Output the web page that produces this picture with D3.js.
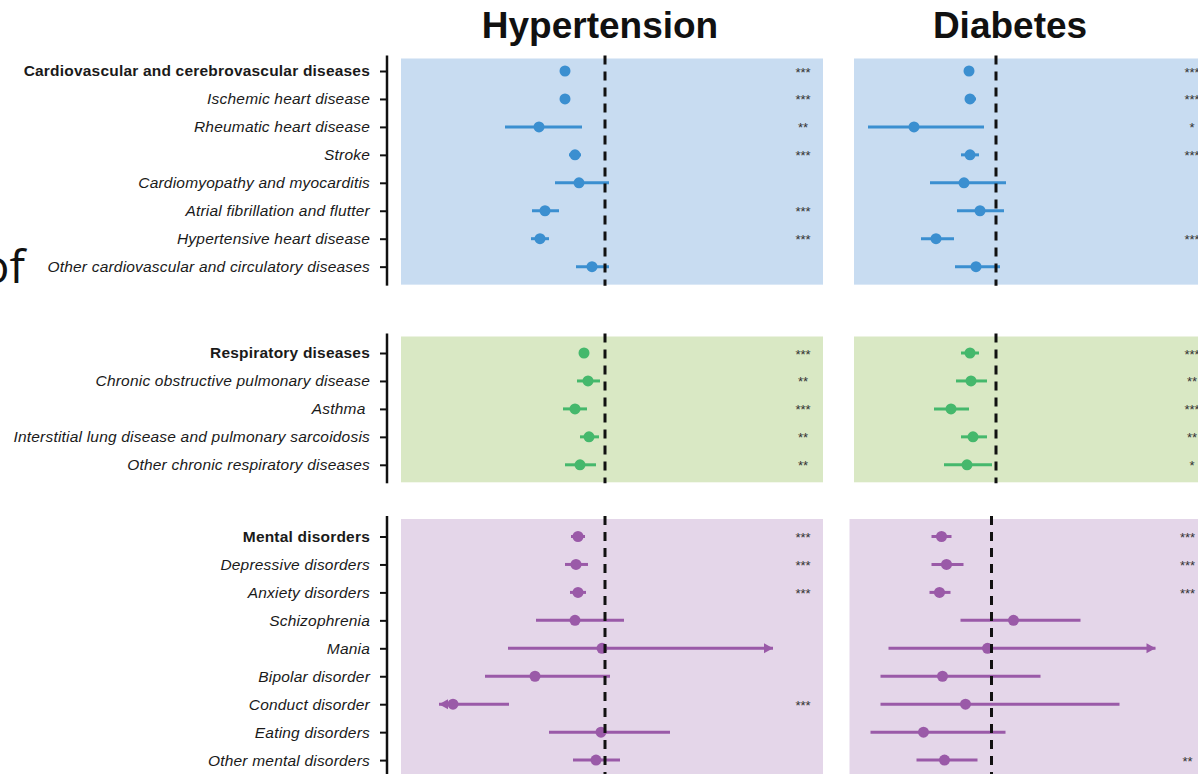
<!DOCTYPE html>
<html>
<head>
<meta charset="utf-8">
<script src="https://cdn.jsdelivr.net/npm/d3@7"></script>
<style>
  body { margin: 0; background: #fff; }
  svg { display: block; }
</style>
</head>
<body>
<svg id="chart" width="1198" height="774"></svg>
<script>
// ---- Data ---------------------------------------------------------------
const groupNames = [
  "Cardiovascular and cerebrovascular diseases",
  "Respiratory diseases",
  "Mental disorders"
];
const cardioCauses = [
  "Cardiovascular and cerebrovascular diseases",
  "Ischemic heart disease",
  "Rheumatic heart disease",
  "Stroke",
  "Cardiomyopathy and myocarditis",
  "Atrial fibrillation and flutter",
  "Hypertensive heart disease",
  "Other cardiovascular and circulatory diseases"
];
const respCauses = [
  "Respiratory diseases",
  "Chronic obstructive pulmonary disease",
  "Asthma ",
  "Interstitial lung disease and pulmonary sarcoidosis",
  "Other chronic respiratory diseases"
];
const mentalCauses = [
  "Mental disorders",
  "Depressive disorders",
  "Anxiety disorders",
  "Schizophrenia",
  "Mania",
  "Bipolar disorder",
  "Conduct disorder",
  "Eating disorders",
  "Other mental disorders"
];
const columnTitles = ["Hypertension", "Diabetes"];

// Hypertension: estimate, lower and upper bound (rows in cause order)
const htnEst = [0.80, 0.80, 0.67, 0.85, 0.87, 0.70, 0.675, 0.935,
                0.895, 0.915, 0.85, 0.92, 0.875,
                0.865, 0.855, 0.865, 0.85, 0.985, 0.65, 0.24, 0.98, 0.955];
const htnLo  = [0.785, 0.785, 0.50, 0.82, 0.75, 0.635, 0.63, 0.855,
                0.875, 0.86, 0.79, 0.875, 0.80,
                0.83, 0.80, 0.825, 0.655, 0.515, 0.40, 0.17, 0.72, 0.84];
const htnHi  = [0.815, 0.815, 0.885, 0.88, 1.02, 0.77, 0.72, 1.02,
                0.915, 0.975, 0.91, 0.97, 0.955,
                0.90, 0.915, 0.905, 1.095, 1.84, 1.025, 0.52, 1.325, 1.075];
const htnStars = ["***", "***", "**", "***", "", "***", "***", "",
                  "***", "**", "***", "**", "**",
                  "***", "***", "***", "", "", "", "***", "", ""];
const htnArrows = ["", "", "", "", "", "", "", "",
                   "", "", "", "", "",
                   "", "", "", "", "right", "", "left", "", ""];

// Diabetes: estimate, lower and upper bound
const dmEst = [0.865, 0.87, 0.59, 0.87, 0.84, 0.92, 0.70, 0.90,
               0.87, 0.875, 0.775, 0.885, 0.855,
               0.75, 0.775, 0.74, 1.11, 0.98, 0.755, 0.87, 0.66, 0.765];
const dmLo  = [0.85, 0.845, 0.36, 0.825, 0.67, 0.805, 0.625, 0.795,
               0.825, 0.80, 0.69, 0.825, 0.74,
               0.70, 0.70, 0.69, 0.845, 0.485, 0.445, 0.445, 0.395, 0.625];
const dmHi  = [0.88, 0.90, 0.94, 0.915, 1.05, 1.04, 0.79, 1.02,
               0.915, 0.955, 0.865, 0.955, 0.98,
               0.80, 0.86, 0.795, 1.445, 1.82, 1.245, 1.64, 1.07, 0.93];
const dmStars = ["***", "***", "*", "***", "", "", "***", "",
                 "***", "**", "***", "**", "*",
                 "***", "***", "***", "", "", "", "", "", "**"];
const dmArrows = ["", "", "", "", "", "", "", "",
                  "", "", "", "", "",
                  "", "", "", "", "right", "", "", "", ""];

// ---- Layout -------------------------------------------------------------
const svg = d3.select("#chart");
const FONT = "'Liberation Sans', Arial, sans-serif";

const groups = [
  { causes: cardioCauses, first: 71,    padTop: 12.5, padBot: 18,  bg: "#c8dcf1", mark: "#3b8fd0" },
  { causes: respCauses,   first: 353,   padTop: 16.5, padBot: 17.5, bg: "#d9e8c4", mark: "#45b86c" },
  { causes: mentalCauses, first: 536.5, padTop: 17.5, padBot: 22,  bg: "#e4d6e9", mark: "#9a5aa8" }
];
const rowStep = 27.95;
const axisX = 387;

const columns = [
  { title: columnTitles[0], titleX: 600,
    est: htnEst, lo: htnLo, hi: htnHi, stars: htnStars, arrows: htnArrows,
    x: d3.scaleLinear().domain([0, 2]).range([405, 805]),
    panel: [401, 823], starX: 803, shift: [0, 0, 0] },
  { title: columnTitles[1], titleX: 1010,
    est: dmEst, lo: dmLo, hi: dmHi, stars: dmStars, arrows: dmArrows,
    x: d3.scaleLinear().domain([0, 2]).range([796, 1196]),
    panel: [854, 1240], starX: 1192, shift: [0, 0, -4.5] }
];

// Partial word at the left edge
svg.append("text")
  .attr("x", 25).attr("y", 283)
  .attr("text-anchor", "end")
  .style("font-family", "'Open Sans', sans-serif")
  .style("font-size", "46px")
  .style("fill", "#111")
  .text("of");

// Column titles
columns.forEach(col => {
  svg.append("text")
    .attr("x", col.titleX).attr("y", 38)
    .attr("text-anchor", "middle")
    .style("font-family", FONT)
    .style("font-size", "37px")
    .style("font-weight", "bold")
    .style("fill", "#111")
    .text(col.title);
});

let rowOffset = 0;
groups.forEach((grp, gi) => {
  const n = grp.causes.length;
  const y = d3.scalePoint()
    .domain(grp.causes)
    .range([grp.first, grp.first + (n - 1) * rowStep]);
  const top = grp.first - grp.padTop;
  const bottom = grp.first + (n - 1) * rowStep + grp.padBot;

  // Panels, reference line and estimates for each column
  columns.forEach(col => {
    const g = svg.append("g").attr("transform", `translate(${col.shift[gi]},0)`);
    g.append("rect")
      .attr("x", col.panel[0]).attr("y", top)
      .attr("width", col.panel[1] - col.panel[0])
      .attr("height", bottom - top)
      .attr("fill", grp.bg);

    const rows = grp.causes.map((c, i) => ({
      cause: c,
      est: col.est[rowOffset + i],
      lo: col.lo[rowOffset + i],
      hi: col.hi[rowOffset + i],
      star: col.stars[rowOffset + i],
      arrow: col.arrows[rowOffset + i]
    }));

    const r = g.selectAll("g.row").data(rows).join("g").attr("class", "row");
    r.append("line")
      .attr("x1", d => col.x(d.lo)).attr("x2", d => col.x(d.hi))
      .attr("y1", d => y(d.cause)).attr("y2", d => y(d.cause))
      .attr("stroke", grp.mark).attr("stroke-width", 3);
    r.filter(d => d.arrow === "right").append("path")
      .attr("d", d => {
        const tx = col.x(d.hi), ty = y(d.cause);
        return `M${tx},${ty}L${tx - 9},${ty - 5}L${tx - 9},${ty + 5}Z`;
      })
      .attr("fill", grp.mark);
    r.filter(d => d.arrow === "left").append("path")
      .attr("d", d => {
        const tx = col.x(d.lo), ty = y(d.cause);
        return `M${tx},${ty}L${tx + 9},${ty - 5}L${tx + 9},${ty + 5}Z`;
      })
      .attr("fill", grp.mark);
    r.append("circle")
      .attr("cx", d => col.x(d.est)).attr("cy", d => y(d.cause))
      .attr("r", 5.5)
      .attr("fill", grp.mark);
    r.filter(d => d.star).append("text")
      .attr("x", col.starX).attr("y", d => y(d.cause) + 5.5)
      .attr("text-anchor", "middle")
      .style("font-family", FONT)
      .style("font-size", "13px")
      .style("fill", "#333")
      .text(d => d.star);

    g.append("line")
      .attr("x1", col.x(1)).attr("x2", col.x(1))
      .attr("y1", top - 3).attr("y2", bottom + 1)
      .attr("stroke", "#111").attr("stroke-width", 3)
      .attr("stroke-dasharray", "9,7");
  });

  // Cause labels on the left axis
  const axis = d3.axisLeft(y).tickSize(7).tickPadding(10);
  const ag = svg.append("g").attr("transform", `translate(${axisX},0)`).call(axis);
  ag.select(".domain").remove();
  ag.selectAll(".tick line").attr("stroke", "#111").attr("stroke-width", 2);
  ag.selectAll(".tick text")
    .style("font-family", FONT)
    .style("font-size", "15.5px")
    .style("letter-spacing", "0.2px")
    .style("fill", "#1a1a1a")
    .style("white-space", "pre")
    .style("font-style", (d, i) => i === 0 ? "normal" : "italic")
    .style("font-weight", (d, i) => i === 0 ? "bold" : "normal");
  svg.append("line")
    .attr("x1", axisX).attr("x2", axisX)
    .attr("y1", top - 3).attr("y2", bottom + 1)
    .attr("stroke", "#111").attr("stroke-width", 2.5);

  rowOffset += n;
});
</script>
</body>
</html>
